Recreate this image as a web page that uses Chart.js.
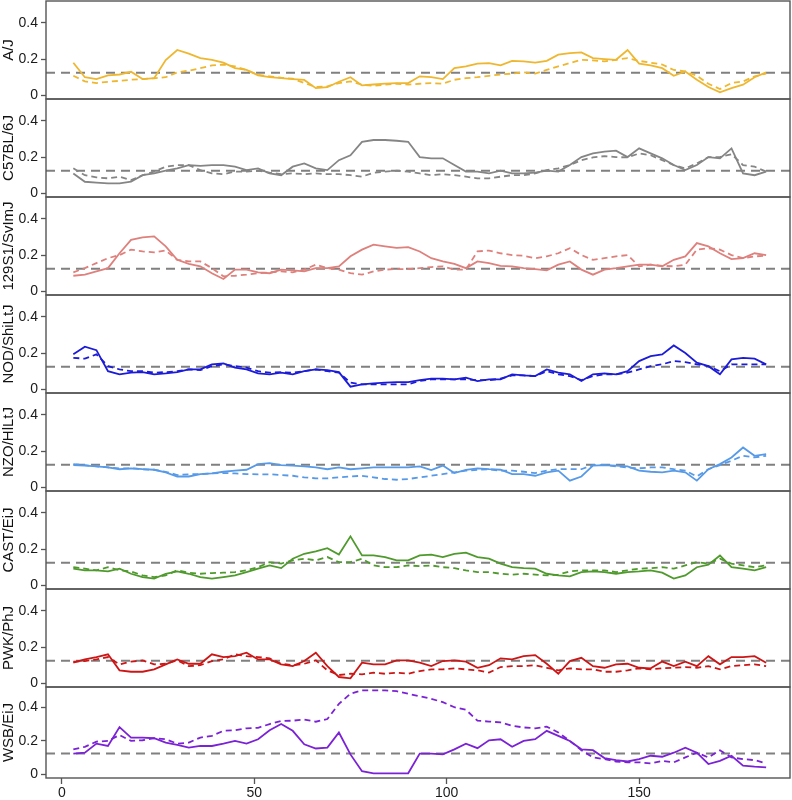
<!DOCTYPE html>
<html>
<head>
<meta charset="utf-8">
<title>Founder strain ancestry</title>
<script src="https://cdn.jsdelivr.net/npm/chart.js@4.4.1/dist/chart.umd.min.js"></script>
<style>
  html, body { margin: 0; padding: 0; background: #fff; }
  #wrap { position: relative; width: 792px; height: 800px; overflow: hidden; }
  #wrap canvas { position: absolute; left: 0; }
</style>
</head>
<body>
<div id="wrap"></div>
<script>
// positions along the chromosome (x axis)
const positions = [
  3, 6, 9, 12, 15, 18, 21, 24, 27, 30,
  33, 36, 39, 42, 45, 48, 51, 54, 57, 60,
  63, 66, 69, 72, 75, 78, 81, 84, 87, 90,
  93, 96, 99, 102, 105, 108, 111, 114, 117, 120,
  123, 126, 129, 132, 135, 138, 141, 144, 147, 150,
  153, 156, 159, 162, 165, 168, 171, 174, 177, 180,
  183
];

const strains = ['A/J', 'C57BL/6J', '129S1/SvImJ', 'NOD/ShiLtJ', 'NZO/HlLtJ', 'CAST/EiJ', 'PWK/PhJ', 'WSB/EiJ'];
const strainColors = ['#EEB72F', '#858585', '#DE807C', '#1C1CD8', '#579AE8', '#4F9A2C', '#CC1616', '#7B22D6'];

const xTicks = [0, 50, 100, 150];
const yTicks = [0, 0.2, 0.4];
const expectedLevel = 0.125;

const ajSolid = [
  0.180, 0.100, 0.090, 0.110, 0.115, 0.130, 0.090, 0.095, 0.195, 0.250,
  0.230, 0.205, 0.195, 0.180, 0.150, 0.140, 0.110, 0.100, 0.095, 0.090,
  0.085, 0.040, 0.045, 0.075, 0.100, 0.055, 0.060, 0.065, 0.068, 0.068,
  0.105, 0.100, 0.090, 0.150, 0.160, 0.175, 0.178, 0.165, 0.190, 0.187,
  0.180, 0.190, 0.224, 0.233, 0.237, 0.205, 0.200, 0.196, 0.250, 0.175,
  0.165, 0.150, 0.108, 0.132, 0.086, 0.046, 0.017, 0.040, 0.059, 0.100,
  0.127
];
const ajDashed = [
  0.108, 0.077, 0.068, 0.075, 0.080, 0.086, 0.090, 0.094, 0.100, 0.127,
  0.136, 0.150, 0.165, 0.170, 0.160, 0.140, 0.113, 0.105, 0.097, 0.092,
  0.068, 0.046, 0.050, 0.068, 0.077, 0.059, 0.053, 0.059, 0.064, 0.059,
  0.064, 0.068, 0.064, 0.086, 0.095, 0.100, 0.108, 0.115, 0.120, 0.127,
  0.120, 0.140, 0.160, 0.178, 0.196, 0.193, 0.187, 0.196, 0.205, 0.190,
  0.180, 0.170, 0.140, 0.132, 0.108, 0.064, 0.035, 0.068, 0.077, 0.105,
  0.120
];
const b6Solid = [
  0.110, 0.064, 0.059, 0.055, 0.055, 0.064, 0.100, 0.110, 0.125, 0.138,
  0.156, 0.152, 0.156, 0.156, 0.147, 0.128, 0.138, 0.110, 0.100, 0.147,
  0.165, 0.138, 0.128, 0.183, 0.210, 0.284, 0.294, 0.294, 0.290, 0.284,
  0.200, 0.193, 0.193, 0.156, 0.120, 0.120, 0.110, 0.125, 0.110, 0.110,
  0.114, 0.125, 0.120, 0.156, 0.200, 0.220, 0.230, 0.235, 0.200, 0.248,
  0.220, 0.193, 0.156, 0.128, 0.156, 0.200, 0.193, 0.248, 0.110, 0.100,
  0.120
];
const b6Dashed = [
  0.138, 0.100, 0.088, 0.083, 0.092, 0.073, 0.100, 0.120, 0.147, 0.156,
  0.156, 0.128, 0.110, 0.106, 0.120, 0.120, 0.125, 0.114, 0.106, 0.110,
  0.106, 0.110, 0.106, 0.106, 0.100, 0.092, 0.114, 0.120, 0.125, 0.120,
  0.110, 0.100, 0.106, 0.100, 0.092, 0.083, 0.083, 0.092, 0.100, 0.100,
  0.110, 0.128, 0.138, 0.156, 0.183, 0.198, 0.205, 0.200, 0.198, 0.220,
  0.210, 0.183, 0.156, 0.138, 0.165, 0.200, 0.200, 0.216, 0.156, 0.147,
  0.120
];
const s129Solid = [
  0.086, 0.092, 0.110, 0.128, 0.210, 0.284, 0.297, 0.303, 0.248, 0.174,
  0.152, 0.138, 0.100, 0.068, 0.120, 0.120, 0.105, 0.100, 0.120, 0.116,
  0.110, 0.128, 0.128, 0.138, 0.193, 0.230, 0.257, 0.248, 0.240, 0.244,
  0.220, 0.183, 0.165, 0.152, 0.128, 0.165, 0.156, 0.141, 0.138, 0.128,
  0.123, 0.116, 0.147, 0.165, 0.120, 0.092, 0.120, 0.128, 0.138, 0.147,
  0.147, 0.138, 0.174, 0.193, 0.266, 0.248, 0.210, 0.178, 0.183, 0.210,
  0.200
];
const s129Dashed = [
  0.105, 0.128, 0.156, 0.183, 0.200, 0.230, 0.220, 0.215, 0.225, 0.174,
  0.165, 0.165, 0.128, 0.083, 0.086, 0.092, 0.100, 0.105, 0.110, 0.105,
  0.120, 0.147, 0.128, 0.120, 0.100, 0.092, 0.110, 0.120, 0.123, 0.123,
  0.128, 0.134, 0.138, 0.120, 0.120, 0.220, 0.225, 0.210, 0.200, 0.196,
  0.183, 0.193, 0.210, 0.238, 0.200, 0.174, 0.183, 0.193, 0.200, 0.138,
  0.147, 0.141, 0.138, 0.147, 0.230, 0.238, 0.230, 0.200, 0.183, 0.193,
  0.196
];
const nodSolid = [
  0.193, 0.235, 0.216, 0.100, 0.083, 0.092, 0.095, 0.083, 0.088, 0.095,
  0.110, 0.110, 0.138, 0.143, 0.120, 0.110, 0.088, 0.083, 0.092, 0.083,
  0.100, 0.110, 0.106, 0.095, 0.015, 0.028, 0.033, 0.037, 0.040, 0.040,
  0.051, 0.059, 0.059, 0.055, 0.064, 0.046, 0.055, 0.055, 0.083, 0.077,
  0.073, 0.110, 0.092, 0.083, 0.046, 0.083, 0.088, 0.083, 0.100, 0.156,
  0.183, 0.193, 0.242, 0.200, 0.147, 0.128, 0.083, 0.165, 0.174, 0.169,
  0.138
];
const nodDashed = [
  0.174, 0.169, 0.193, 0.128, 0.110, 0.100, 0.100, 0.092, 0.095, 0.100,
  0.110, 0.106, 0.128, 0.138, 0.128, 0.120, 0.100, 0.092, 0.095, 0.092,
  0.100, 0.110, 0.100, 0.092, 0.037, 0.028, 0.028, 0.028, 0.028, 0.028,
  0.046, 0.055, 0.055, 0.055, 0.055, 0.051, 0.051, 0.059, 0.077, 0.077,
  0.073, 0.100, 0.083, 0.073, 0.051, 0.073, 0.083, 0.083, 0.092, 0.110,
  0.128, 0.138, 0.156, 0.150, 0.138, 0.128, 0.100, 0.138, 0.138, 0.138,
  0.138
];
const nzoSolid = [
  0.123, 0.120, 0.116, 0.110, 0.100, 0.105, 0.100, 0.097, 0.083, 0.060,
  0.060, 0.073, 0.077, 0.086, 0.092, 0.097, 0.128, 0.134, 0.123, 0.120,
  0.116, 0.110, 0.100, 0.110, 0.100, 0.105, 0.110, 0.110, 0.110, 0.110,
  0.116, 0.095, 0.120, 0.079, 0.097, 0.105, 0.100, 0.097, 0.073, 0.073,
  0.064, 0.083, 0.092, 0.037, 0.060, 0.120, 0.123, 0.120, 0.116, 0.092,
  0.086, 0.083, 0.092, 0.083, 0.037, 0.100, 0.128, 0.165, 0.220, 0.174,
  0.183
];
const nzoDashed = [
  0.128, 0.123, 0.116, 0.110, 0.105, 0.105, 0.100, 0.097, 0.086, 0.068,
  0.072, 0.073, 0.077, 0.079, 0.077, 0.073, 0.072, 0.072, 0.068, 0.064,
  0.055, 0.050, 0.050, 0.055, 0.060, 0.064, 0.055, 0.046, 0.042, 0.046,
  0.055, 0.064, 0.073, 0.083, 0.092, 0.097, 0.100, 0.092, 0.092, 0.086,
  0.079, 0.092, 0.100, 0.100, 0.100, 0.123, 0.123, 0.116, 0.110, 0.105,
  0.110, 0.110, 0.100, 0.092, 0.060, 0.100, 0.123, 0.147, 0.174, 0.165,
  0.174
];
const castSolid = [
  0.092, 0.083, 0.083, 0.077, 0.092, 0.064, 0.046, 0.037, 0.064, 0.077,
  0.064, 0.046, 0.037, 0.046, 0.055, 0.073, 0.092, 0.110, 0.095, 0.147,
  0.174, 0.187, 0.205, 0.170, 0.270, 0.165, 0.165, 0.156, 0.138, 0.138,
  0.165, 0.169, 0.156, 0.174, 0.180, 0.156, 0.147, 0.120, 0.100, 0.095,
  0.092, 0.064, 0.055, 0.050, 0.073, 0.077, 0.073, 0.064, 0.073, 0.077,
  0.083, 0.070, 0.037, 0.055, 0.100, 0.114, 0.165, 0.100, 0.092, 0.083,
  0.100
];
const castDashed = [
  0.100, 0.092, 0.083, 0.100, 0.083, 0.077, 0.055, 0.046, 0.055, 0.083,
  0.070, 0.064, 0.068, 0.070, 0.073, 0.083, 0.100, 0.128, 0.120, 0.138,
  0.147, 0.138, 0.156, 0.128, 0.128, 0.147, 0.110, 0.100, 0.100, 0.110,
  0.106, 0.110, 0.100, 0.095, 0.083, 0.073, 0.073, 0.064, 0.059, 0.064,
  0.059, 0.055, 0.059, 0.077, 0.083, 0.083, 0.083, 0.073, 0.083, 0.092,
  0.095, 0.100, 0.092, 0.110, 0.128, 0.120, 0.147, 0.120, 0.110, 0.100,
  0.110
];
const pwkSolid = [
  0.114, 0.132, 0.145, 0.160, 0.072, 0.064, 0.064, 0.077, 0.105, 0.132,
  0.108, 0.108, 0.160, 0.145, 0.150, 0.169, 0.132, 0.132, 0.105, 0.095,
  0.123, 0.169, 0.095, 0.035, 0.028, 0.114, 0.105, 0.105, 0.127, 0.127,
  0.114, 0.095, 0.123, 0.127, 0.120, 0.086, 0.100, 0.138, 0.132, 0.150,
  0.156, 0.108, 0.053, 0.123, 0.141, 0.095, 0.086, 0.105, 0.108, 0.086,
  0.083, 0.120, 0.095, 0.120, 0.095, 0.150, 0.105, 0.145, 0.145, 0.150,
  0.114
];
const pwkDashed = [
  0.120, 0.123, 0.132, 0.145, 0.105, 0.120, 0.127, 0.105, 0.108, 0.127,
  0.095, 0.100, 0.123, 0.132, 0.160, 0.150, 0.145, 0.138, 0.108, 0.100,
  0.108, 0.127, 0.072, 0.046, 0.053, 0.050, 0.059, 0.053, 0.059, 0.053,
  0.068, 0.077, 0.077, 0.083, 0.077, 0.072, 0.059, 0.090, 0.095, 0.095,
  0.100, 0.086, 0.072, 0.083, 0.077, 0.077, 0.064, 0.064, 0.072, 0.083,
  0.077, 0.083, 0.086, 0.090, 0.086, 0.095, 0.077, 0.095, 0.100, 0.105,
  0.095
];
const wsbSolid = [
  0.125, 0.130, 0.184, 0.170, 0.282, 0.220, 0.220, 0.216, 0.190, 0.176,
  0.160, 0.170, 0.170, 0.184, 0.200, 0.184, 0.210, 0.263, 0.300, 0.260,
  0.180, 0.155, 0.160, 0.250, 0.120, 0.020, 0.008, 0.008, 0.008, 0.008,
  0.125, 0.125, 0.120, 0.150, 0.184, 0.157, 0.204, 0.210, 0.165, 0.200,
  0.210, 0.260, 0.230, 0.200, 0.150, 0.145, 0.098, 0.086, 0.078, 0.092,
  0.112, 0.106, 0.130, 0.160, 0.130, 0.063, 0.082, 0.112, 0.053, 0.047,
  0.043
];
const wsbDashed = [
  0.150, 0.165, 0.196, 0.200, 0.235, 0.200, 0.204, 0.216, 0.210, 0.184,
  0.190, 0.220, 0.230, 0.260, 0.263, 0.275, 0.278, 0.300, 0.318, 0.320,
  0.327, 0.314, 0.330, 0.420, 0.480, 0.500, 0.500, 0.500, 0.495, 0.480,
  0.465, 0.450, 0.430, 0.400, 0.385, 0.320, 0.315, 0.310, 0.290, 0.280,
  0.275, 0.285, 0.250, 0.200, 0.145, 0.102, 0.092, 0.078, 0.073, 0.073,
  0.067, 0.082, 0.073, 0.102, 0.130, 0.102, 0.145, 0.102, 0.092, 0.086,
  0.067
];

const solidSeries = [ajSolid, b6Solid, s129Solid, nodSolid, nzoSolid, castSolid, pwkSolid, wsbSolid];
const dashedSeries = [ajDashed, b6Dashed, s129Dashed, nodDashed, nzoDashed, castDashed, pwkDashed, wsbDashed];

// axis ranges (R style 4% extension)
const X_MIN = -4.1, X_MAX = 189.2;
const Y_MIN = -0.02, Y_MAX = 0.52;

// panel placement
const panelTops = [1, 99, 197, 295, 393, 491, 589, 687];
const PAD = 12;

Chart.defaults.font.family = "'Liberation Sans', Arial, sans-serif";
Chart.defaults.color = '#1a1a1a';

const toPoints = arr => positions.map((x, j) => ({ x: x, y: arr[j] }));

// draws the frame around each panel
const panelBox = {
    id: 'panelBox',
    afterDatasetsDraw(chart) {
        const { ctx, chartArea: a } = chart;
        ctx.save();
        ctx.strokeStyle = '#555555';
        ctx.lineWidth = 1.4;
        ctx.strokeRect(a.left, a.top, a.right - a.left, a.bottom - a.top);
        ctx.restore();
    }
};

const wrap = document.getElementById('wrap');

strains.forEach((name, i) => {
    const last = i === strains.length - 1;
    const h = last ? 125 : 98 + PAD * 2;
    const canvas = document.createElement('canvas');
    canvas.width = 792;
    canvas.height = h;
    canvas.style.width = '792px';
    canvas.style.height = h + 'px';
    canvas.style.top = (panelTops[i] - PAD) + 'px';
    wrap.appendChild(canvas);

    new Chart(canvas, {
        type: 'line',
        data: {
            datasets: [
                {
                    data: toPoints(solidSeries[i]),
                    borderColor: strainColors[i],
                    borderWidth: 1.8
                },
                {
                    data: toPoints(dashedSeries[i]),
                    borderColor: strainColors[i],
                    borderWidth: 1.8,
                    borderDash: [6, 4]
                },
                {
                    data: [{ x: X_MIN, y: expectedLevel }, { x: X_MAX, y: expectedLevel }],
                    borderColor: '#808080',
                    borderWidth: 2,
                    borderDash: [9, 6]
                }
            ]
        },
        options: {
            responsive: false,
            animation: false,
            devicePixelRatio: 1,
            layout: { padding: { top: PAD, bottom: last ? 0 : PAD, left: 0, right: 2 } },
            elements: { point: { radius: 0 }, line: { tension: 0 } },
            plugins: { legend: { display: false }, tooltip: { enabled: false } },
            scales: {
                x: {
                    type: 'linear',
                    min: X_MIN,
                    max: X_MAX,
                    display: last,
                    afterBuildTicks: s => { s.ticks = xTicks.map(v => ({ value: v })); },
                    afterFit: s => { if (last) s.height = 22; },
                    ticks: { font: { size: 14 }, padding: 1, maxRotation: 0, autoSkip: false },
                    grid: { drawOnChartArea: false, tickLength: 6, tickColor: '#555555', tickWidth: 1.3 },
                    border: { display: false }
                },
                y: {
                    min: Y_MIN,
                    max: Y_MAX,
                    afterBuildTicks: s => { s.ticks = yTicks.map(v => ({ value: v })); },
                    afterFit: s => { s.width = 46; },
                    ticks: { font: { size: 14 }, padding: 3, callback: v => String(v) },
                    grid: { drawOnChartArea: false, tickLength: 5, tickColor: '#555555', tickWidth: 1.3 },
                    border: { display: false },
                    title: { display: true, text: name, font: { size: 15 }, padding: 0, color: '#111111' }
                }
            }
        },
        plugins: [panelBox]
    });
});
</script>
</body>
</html>
